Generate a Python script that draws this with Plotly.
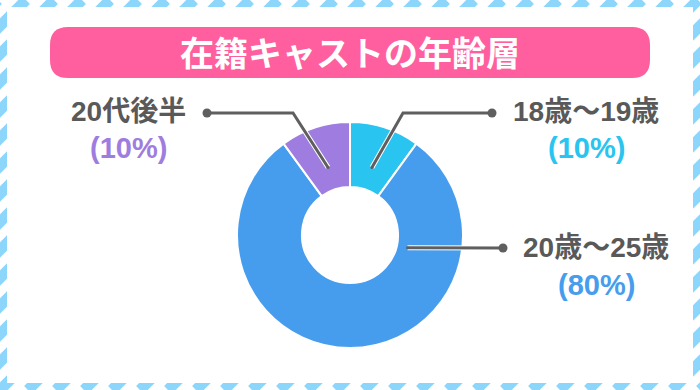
import math
import plotly.graph_objects as go

# ---- data ----
categories = ["18歳～19歳", "20歳～25歳", "20代後半"]
values = [10, 80, 10]
pct_labels = ["(10%)", "(80%)", "(10%)"]
title_text = "在籍キャストの年齢層"

# ---- style ----
W, H = 700, 390
colors = ["#29c4ef", "#479ded", "#9f7de0"]
text_gray = "#595959"
line_gray = "#5f5f5f"
stripe_col = "#8dd6fb"
pink = "#ff5f9e"

cx, cy, R = 350, 235, 113          # donut centre / radius in px
hole = 0.425


def px(x):
    return x / W


def py(y):
    return 1 - y / H


fig = go.Figure()
fig.add_trace(go.Pie(
    labels=categories, values=values, sort=False, direction="clockwise",
    rotation=0, hole=hole,
    marker=dict(colors=colors, line=dict(color="white", width=2)),
    textinfo="none", hoverinfo="skip", showlegend=False,
    domain=dict(x=[px(cx - R), px(cx + R)], y=[py(cy + R), py(cy - R)]),
))

shapes = []
# striped frame
for x0 in range(-420, 720, 28):
    shapes.append(dict(type="line", xref="paper", yref="paper",
                       x0=px(x0), y0=py(H), x1=px(x0 + H), y1=py(0),
                       line=dict(color=stripe_col, width=11), layer="below"))
shapes.append(dict(type="rect", xref="paper", yref="paper",
                   x0=px(7), y0=py(383), x1=px(693), y1=py(7),
                   fillcolor="white", line=dict(width=0), layer="below"))

# title bar (rounded)
bx0, bx1, by0, by1, r = 50, 650, 27, 78, 18
path = (f"M {px(bx0 + r)},{py(by0)} L {px(bx1 - r)},{py(by0)} "
        f"Q {px(bx1)},{py(by0)} {px(bx1)},{py(by0 + r)} "
        f"L {px(bx1)},{py(by1 - r)} Q {px(bx1)},{py(by1)} {px(bx1 - r)},{py(by1)} "
        f"L {px(bx0 + r)},{py(by1)} Q {px(bx0)},{py(by1)} {px(bx0)},{py(by1 - r)} "
        f"L {px(bx0)},{py(by0 + r)} Q {px(bx0)},{py(by0)} {px(bx0 + r)},{py(by0)} Z")
shapes.append(dict(type="path", xref="paper", yref="paper", path=path,
                   fillcolor=pink, line=dict(width=0), layer="below"))

# leader lines: anchor computed from slice angles
total = sum(values)
mids = []
acc = 0
for v in values:
    mids.append((acc + v / 2) / total * 360)
    acc += v
anchor_r = [71, 59, 71]
anchor_ang = [mids[0], 102.6, mids[2]]
anchors = [(cx + rr * math.sin(math.radians(a)), cy - rr * math.cos(math.radians(a)))
           for rr, a in zip(anchor_r, anchor_ang)]

leaders = [
    [anchors[0], (403, 113), (492, 113)],
    [anchors[1], (503, 248)],
    [anchors[2], (293, 113), (207, 113)],
]
for pts in leaders:
    p = "M " + " L ".join(f"{px(x)},{py(y)}" for x, y in pts)
    shapes.append(dict(type="path", xref="paper", yref="paper", path=p,
                       line=dict(color="white", width=5), layer="above"))
for pts in leaders:
    p = "M " + " L ".join(f"{px(x)},{py(y)}" for x, y in pts)
    shapes.append(dict(type="path", xref="paper", yref="paper", path=p,
                       line=dict(color=line_gray, width=3), layer="above"))
    ex, ey = pts[-1]
    shapes.append(dict(type="circle", xref="paper", yref="paper",
                       x0=px(ex - 4.5), x1=px(ex + 4.5), y0=py(ey + 4.5), y1=py(ey - 4.5),
                       fillcolor=line_gray, line=dict(width=0), layer="above"))
    sx, sy = pts[0]
    shapes.append(dict(type="circle", xref="paper", yref="paper",
                       x0=px(sx - 1.5), x1=px(sx + 1.5), y0=py(sy + 1.5), y1=py(sy - 1.5),
                       fillcolor=line_gray, line=dict(width=0), layer="above"))

font_fam = "Liberation Sans, Noto Sans CJK JP"
annotations = [dict(text=f"<b>{title_text}</b>", x=px(350), y=py(52), xref="paper", yref="paper",
                    showarrow=False, xanchor="center", yanchor="middle",
                    font=dict(family="Noto Sans CJK JP", size=34, color="white"))]

label_pos = [(586, 112, 148), (596, 248, 285), (128, 112, 148)]
for cat, pct, col, (lx, ly, ply) in zip(categories, pct_labels, colors, label_pos):
    annotations.append(dict(text=f"<b>{cat}</b>", x=px(lx), y=py(ly), xref="paper", yref="paper",
                            showarrow=False, xanchor="center", yanchor="middle",
                            font=dict(family=font_fam, size=28, color=text_gray)))
    annotations.append(dict(text=f"<b>{pct}</b>", x=px(lx), y=py(ply), xref="paper", yref="paper",
                            showarrow=False, xanchor="center", yanchor="middle",
                            font=dict(family=font_fam, size=29, color=col)))

fig.update_layout(width=W, height=H, margin=dict(l=0, r=0, t=0, b=0),
                  paper_bgcolor="white", plot_bgcolor="white",
                  shapes=shapes, annotations=annotations)
fig.write_html("out.html", config={"displayModeBar": False},
               post_script="document.body.style.margin='0';document.body.style.overflow='hidden';")
